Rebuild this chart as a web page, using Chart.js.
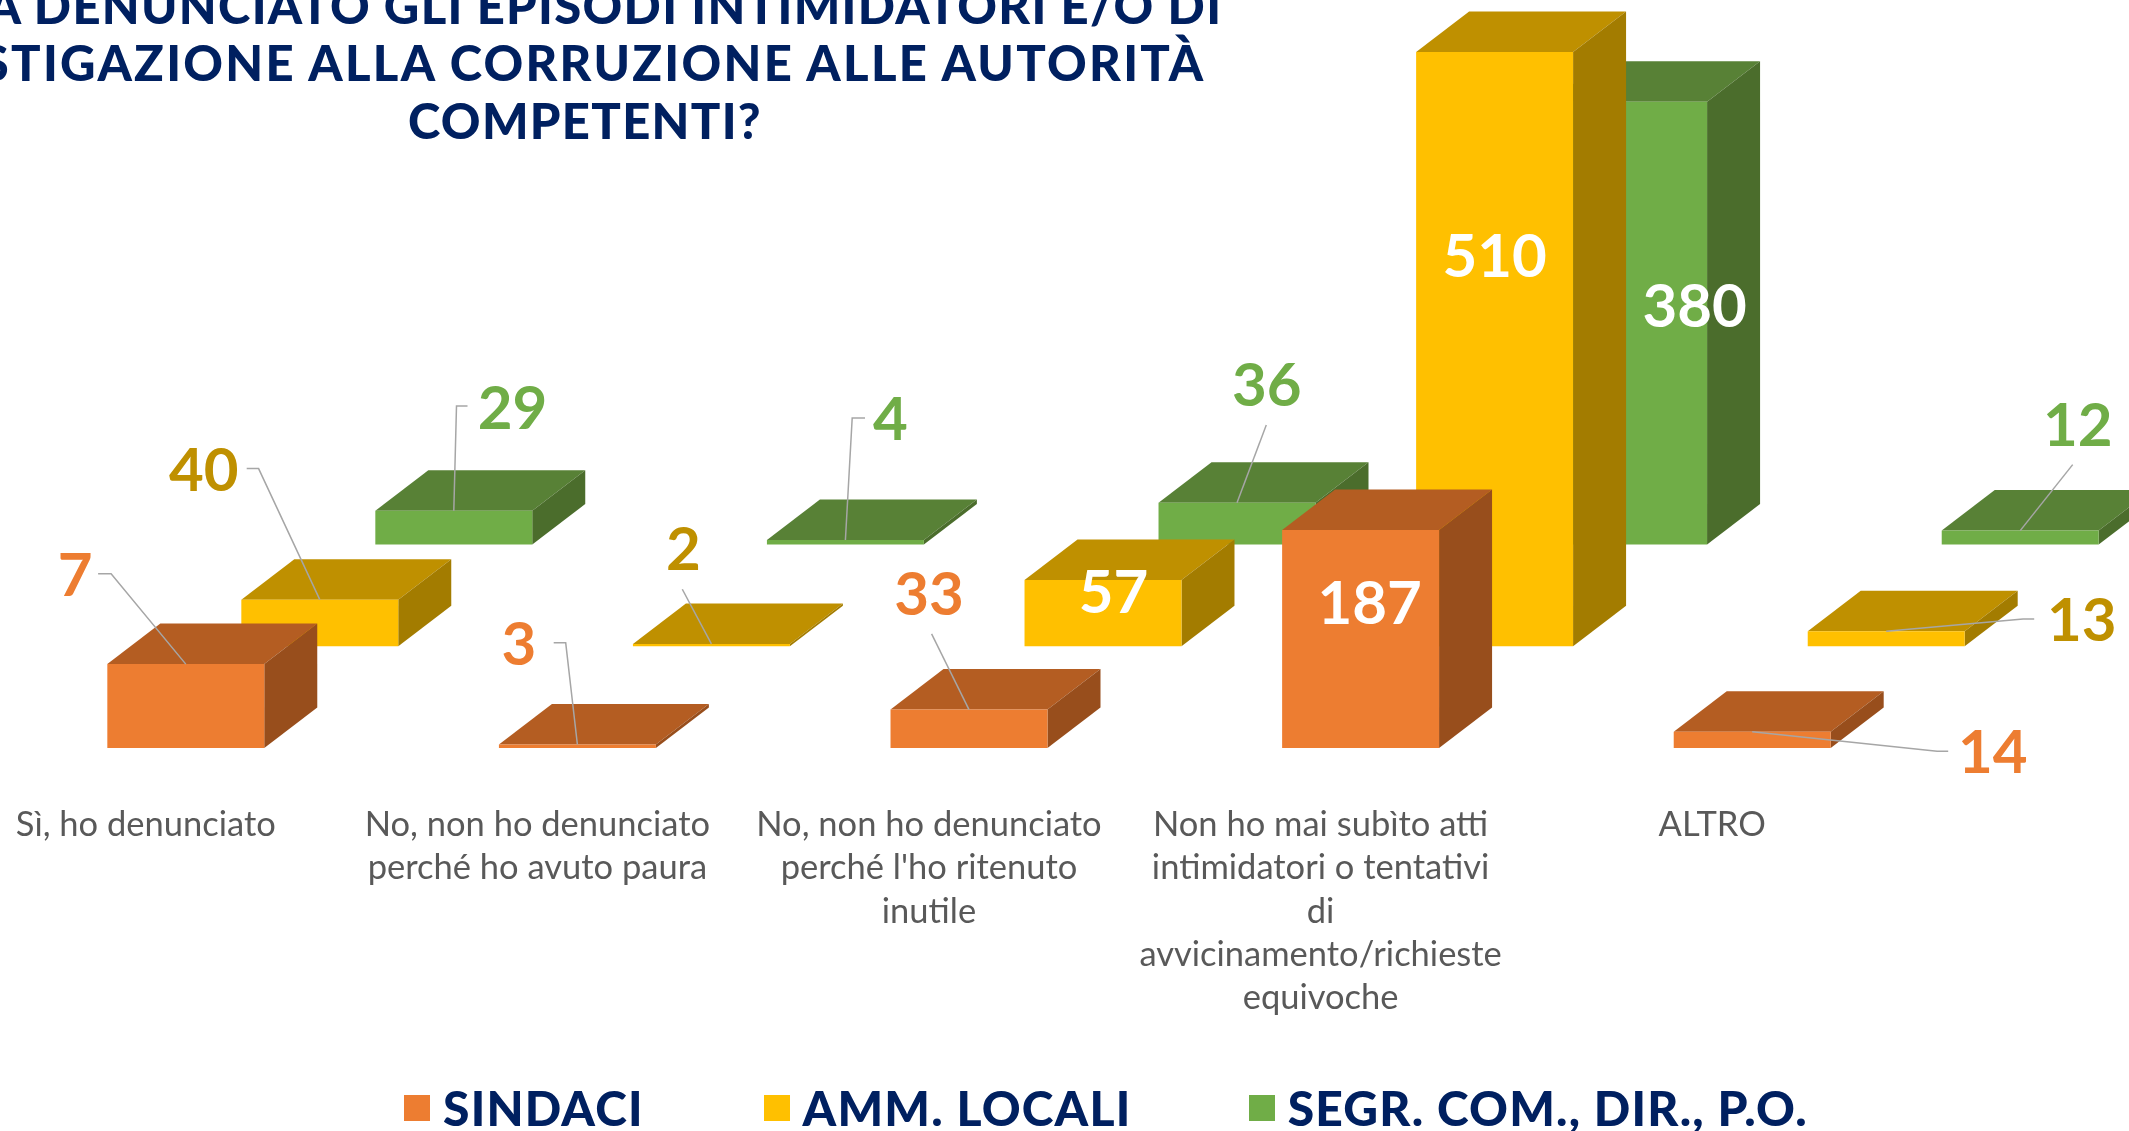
<!DOCTYPE html>
<html lang="it">
<head>
<meta charset="utf-8">
<title>Denunce</title>
<script src="https://cdn.jsdelivr.net/npm/chart.js@4"></script>
<style>
  html, body { margin: 0; background: #fff; width: 2129px; height: 1131px; overflow: hidden; }
  #wrap { position: absolute; left: -59px; top: 0; width: 2200px; height: 1131px; }
  #title {
    position: absolute; left: 585px; top: -23.5px; transform: translateX(-50%);
    font: 900 49px/57.5px Lato, sans-serif; color: #002060; text-align: center; white-space: nowrap;
  }
  #title span { letter-spacing: 1.3px; }
  #title span.wide { letter-spacing: 2.3px; }
  #legend span.item {
    position: absolute; top: 1085px; display: flex; align-items: center; gap: 13px;
    font: 900 48px/46px Lato, sans-serif; color: #002060; letter-spacing: 1.2px; white-space: nowrap;
  }
  #legend i { display: block; width: 26px; height: 26px; }
</style>
</head>
<body>
<div id="wrap"><canvas id="chart"></canvas></div>
<div id="title"><span>HA DENUNCIATO GLI EPISODI INTIMIDATORI E/O DI</span><br><span class="wide">ISTIGAZIONE ALLA CORRUZIONE ALLE AUTORITÀ</span><br><span>COMPETENTI?</span></div>
<div id="legend"></div>
<script>
const categories = [
  ["Sì, ho denunciato"],
  ["No, non ho denunciato", "perché ho avuto paura"],
  ["No, non ho denunciato", "perché l'ho ritenuto", "inutile"],
  ["Non ho mai subìto atti", "intimidatori o tentativi", "di", "avvicinamento/richieste", "equivoche"],
  ["ALTRO"],
];
const seriesNames = ["SINDACI", "AMM. LOCALI", "SEGR. COM., DIR., P.O."];

// first orange bar is drawn about 72 tall in the picture, though its label only says 7
const sindaci = [72, 3, 33, 187, 14];
const ammLocali = [40, 2, 57, 510, 13];
const segrCom = [29, 4, 36, 380, 12];

const sindaciLabels = ["7", "3", "33", "187", "14"];
const ammLocaliLabels = ["40", "2", "57", "510", "13"];
const segrComLabels = ["29", "4", "36", "380", "12"];

const palette = [
  { front: "#ED7D31", top: "#B45D22", side: "#984E1C", text: "#ED7D31" },
  { front: "#FFC000", top: "#BF9000", side: "#A37C00", text: "#BF9000" },
  { front: "#70AD47", top: "#588136", side: "#4B6D2C", text: "#70AD47" },
];

// each series sits further back on the floor
const seriesShift = [[40, 0], [174, -101.7], [308, -203.4]];
const depth = { x: 53, y: -40.5 };
const legendLefts = [404, 763.6, 1248.7];

// label centre, relative to the top middle of the bar's front face
const labelOffsets = [
  [[-110.7, -89], [-58.6, -101], [-40, -116.3], [9, 73], [240.5, 19.6]],
  [[-116, -130.4], [-28, -95.7], [10.6, 11.4], [0, 203.6], [195.5, -11]],
  [[58.7, -103.5], [45, -121.6], [29.7, -118.4], [66, 204], [57.5, -106.3]],
];

// leader line vertices, same reference point, the line always ends on the bar
const leaders = [
  [[[-87.7, -90.3], [-74.7, -90.3]], [[-23.7, -101.7], [-11.7, -101.7]], [[-37.4, -75.6]], [], [[196, 19.6], [184.9, 19.6]]],
  [[[-73.1, -131.1], [-61.2, -131.1]], [[-29.1, -54.7]], [], [], [[148, -12.2], [136.9, -12.2]]],
  [[[13.7, -104.8], [2.7, -104.8]], [[19.6, -121.9], [6.8, -121.9]], [[29.3, -77.7]], [], [[52.5, -66]]],
];

const insideLabels = ["187", "57", "510", "380"];

function poly(ctx, pts, color) {
  ctx.beginPath();
  pts.forEach((p, i) => (i ? ctx.lineTo(p[0], p[1]) : ctx.moveTo(p[0], p[1])));
  ctx.closePath();
  ctx.fillStyle = color;
  ctx.fill();
}

const boxes3d = {
  id: "boxes3d",
  beforeDatasetDraw(chart, args) {
    const { ctx } = chart;
    const i = args.index;
    const [sx, sy] = seriesShift[i];
    const c = palette[i];

    args.meta.data.forEach(bar => {
      const l = bar.x - bar.width / 2 + sx;
      const r = bar.x + bar.width / 2 + sx;
      const t = bar.y + sy;
      const b = bar.base + sy;
      poly(ctx, [[l, t], [r, t], [r + depth.x, t + depth.y], [l + depth.x, t + depth.y]], c.top);
      poly(ctx, [[r, t], [r + depth.x, t + depth.y], [r + depth.x, b + depth.y], [r, b]], c.side);
      poly(ctx, [[l, t], [r, t], [r, b], [l, b]], c.front);
    });
    return false;
  },
  afterDatasetsDraw(chart) {
    const { ctx } = chart;
    const texts = [sindaciLabels, ammLocaliLabels, segrComLabels];

    ctx.save();
    ctx.textAlign = "center";
    ctx.textBaseline = "middle";
    ctx.font = "700 60px Lato, sans-serif";

    chart.data.datasets.forEach((ds, i) => {
      const [sx, sy] = seriesShift[i];
      chart.getDatasetMeta(i).data.forEach((bar, j) => {
        const x = bar.x + sx;
        const y = bar.y + sy;

        if (leaders[i][j].length) {
          ctx.beginPath();
          leaders[i][j].forEach((p, k) => (k ? ctx.lineTo(x + p[0], y + p[1]) : ctx.moveTo(x + p[0], y + p[1])));
          ctx.lineTo(x, y);
          ctx.strokeStyle = "#A6A6A6";
          ctx.lineWidth = 1.5;
          ctx.stroke();
        }

        const text = texts[i][j];
        ctx.fillStyle = insideLabels.includes(text) ? "#FFFFFF" : palette[i].text;
        ctx.fillText(text, x + labelOffsets[i][j][0], y + labelOffsets[i][j][1] + 2);
      });
    });
    ctx.restore();
  }
};

document.getElementById("legend").innerHTML = seriesNames
  .map((name, i) => `<span class="item" style="left:${legendLefts[i]}px"><i style="background:${palette[i].front}"></i>${name}</span>`)
  .join("");

new Chart(document.getElementById("chart"), {
  type: "bar",
  data: {
    labels: categories,
    datasets: [sindaci, ammLocali, segrCom].map((data, i) => ({
      label: seriesNames[i],
      data,
      backgroundColor: palette[i].front,
      grouped: false,
      categoryPercentage: 0.4008,
      barPercentage: 1,
    })),
  },
  plugins: [boxes3d],
  options: {
    responsive: true,
    maintainAspectRatio: false,
    animation: false,
    layout: { padding: { top: 0, right: 233, bottom: 64, left: 9 } },
    plugins: { legend: { display: false }, tooltip: { enabled: false } },
    scales: {
      x: {
        border: { display: false },
        grid: { display: false },
        ticks: {
          color: "#595959",
          padding: 47,
          autoSkip: false,
          maxRotation: 0,
          font: { family: "Lato, sans-serif", size: 34.5, lineHeight: 1.258 },
        },
      },
      y: { display: false, min: 0, max: 642 },
    },
  },
});
</script>
</body>
</html>
